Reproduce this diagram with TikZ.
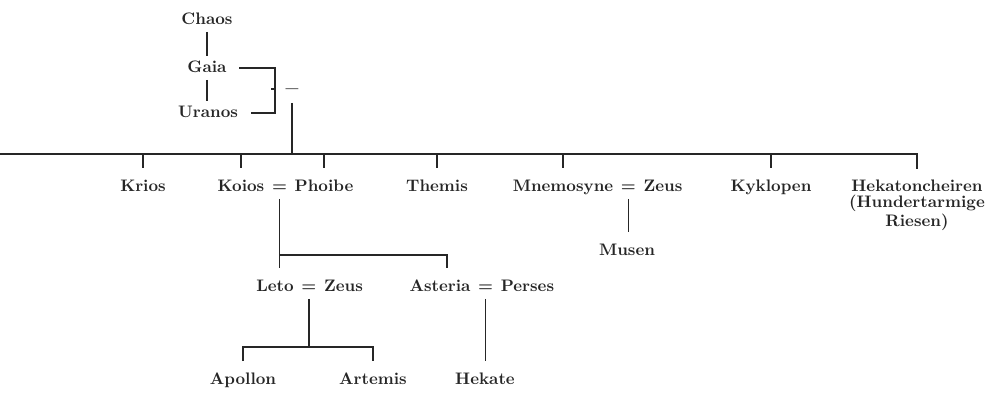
\documentclass[tikz,border=0pt]{standalone}
\usetikzlibrary{positioning}

\begin{document}
\begin{tikzpicture}[
        x=0.02cm, y=-0.02cm,
        god/.style={text=black!85, font=\fontsize{9.5}{9.2}\selectfont\bfseries, text height=7pt, text depth=2pt, inner sep=2pt},
        multi/.style={text=black!85, font=\fontsize{9.5}{9.2}\selectfont\bfseries, align=center, inner sep=2pt},
        branch/.style={draw=black!85, line width=0.9pt},
        drop/.style={shorten >=4pt}
    ]
    \useasboundingbox (0,0) rectangle (994,395);

    % Urgoetter
    \node[god] (chaos) at (207,20) {Chaos};
    \node[god] (gaia) at (207,68) {Gaia};
    \node[god] (uranos) at (208,113) {Uranos};
    \node[god, font=\fontsize{13}{13}\selectfont\bfseries] (eq0) at (292,91) {--};
    \coordinate (brk) at (275,89);
    \draw[branch] (chaos) -- (gaia);
    \draw[branch] (gaia) -- (gaia |- uranos.north);
    \draw[branch, shorten <=5pt, shorten >=5pt] (gaia.east) -| (brk) |- (uranos.east);
    \draw[branch] (brk) -- ++(-4,0);

    % Titanen
    \coordinate (bar) at (0,154);
    \node[god] (krios) at (143,187) {Krios};
    \node[god] (koios) at (241,187) {Koios};
    \node[god, right=0pt of koios] (eqKP) {=};
    \node[god, right=0pt of eqKP] (phoibe) {Phoibe};
    \node[god] (themis) at (437,187) {Themis};
    \node[god] (mnemosyne) at (563,187) {Mnemosyne};
    \node[god, right=0pt of mnemosyne] (eqMZ) {=};
    \node[god, right=0pt of eqMZ] (zeusM) {Zeus};
    \node[god] (kyklopen) at (771,187) {Kyklopen};
    \node[multi, anchor=north] (hek) at (917,176) {Hekatoncheiren\\(Hundertarmige\\Riesen)};
    \draw[branch] (eq0.south) -- (eq0.south |- bar);
    \draw[branch, drop] (bar) -- (bar -| hek.north) -- (hek.north);
    \foreach \n in {krios, koios, phoibe, themis, mnemosyne, kyklopen}
        \draw[branch, drop] (\n.north |- bar) -- (\n.north);

    % Musen
    \node[god] (musen) at (627,251) {Musen};
    \draw[branch, drop] (eqMZ) -- (eqMZ |- musen.north);

    % Kinder von Koios und Phoibe
    \coordinate (kpfork) at (0,255);
    \node[god] (leto) at (275,287) {Leto};
    \node[god, right=0pt of leto] (eqLZ) {=};
    \node[god, right=0pt of eqLZ] (zeusL) {Zeus};
    \node[god] (asteria) at (440,287) {Asteria};
    \node[god, right=0pt of asteria] (eqAP) {=};
    \node[god, right=0pt of eqAP] (perses) {Perses};
    \draw[branch, drop] (eqKP.south) -- (eqKP.south |- leto.north);
    \draw[branch, drop] (eqKP.south |- kpfork) -| ([xshift=4pt]asteria.north);

    % Enkel
    \coordinate (lzfork) at (308,347);
    \node[god] (apollon) at (243,380) {Apollon};
    \node[god] (artemis) at (373,380) {Artemis};
    \node[god] (hekate) at (485,380) {Hekate};
    \draw[branch] (eqLZ.south) -- (eqLZ.south |- lzfork);
    \draw[branch, drop, shorten <=4pt] (apollon.north) |- (lzfork) -| (artemis.north);
    \draw[branch, drop] (eqAP) -- (eqAP |- hekate.north);
\end{tikzpicture}
\end{document}
